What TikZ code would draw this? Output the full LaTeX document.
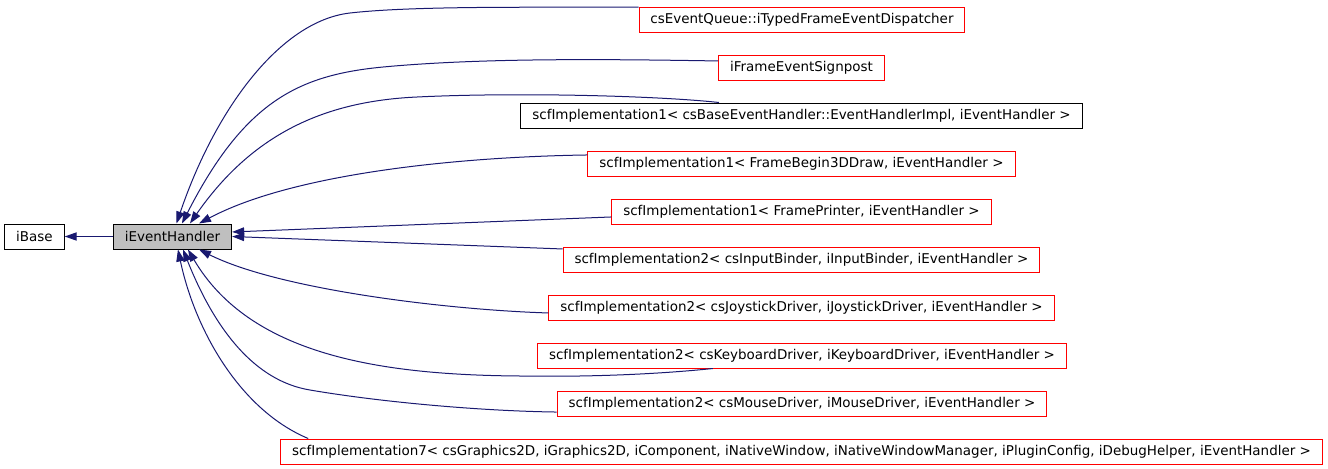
\documentclass[tikz,border=0pt]{standalone}
\usepackage{fontspec}
\setmainfont{DejaVu Sans}
\usetikzlibrary{arrows.meta}

\begin{document}
\begin{tikzpicture}[x=0.75pt, y=-0.75pt, >={Triangle[length=9pt, width=6.2pt]},
  cls/.style={draw=red, fill=white, line width=0.75pt, font=\fontsize{10.1}{12}\selectfont, inner xsep=8.6pt, inner ysep=0pt, minimum height=18.75pt},
  doccls/.style={cls, draw=black},
  inherit/.style={->, draw=edgecolor, line width=0.75pt}]

\definecolor{edgecolor}{RGB}{25, 25, 112}
\definecolor{focuscolor}{RGB}{191, 191, 191}

\useasboundingbox (0, 0) rectangle (1328, 468);

\node[doccls] (ibase) at (34.5, 236.5) {iBase};
\node[doccls, fill=focuscolor] (handler) at (172.5, 236.5) {iEventHandler};

\node[cls] (dispatcher) at (802, 20) {csEventQueue::iTypedFrameEventDispatcher};
\node[cls] (signpost) at (801.5, 67.5) {iFrameEventSignpost};
\node[doccls] (basehandler) at (801.5, 115.5) {scfImplementation1< csBaseEventHandler::EventHandlerImpl, iEventHandler >};
\node[cls] (begindraw) at (801.5, 163.5) {scfImplementation1< FrameBegin3DDraw, iEventHandler >};
\node[cls] (printer) at (801.5, 211.5) {scfImplementation1< FramePrinter, iEventHandler >};
\node[cls] (inputbinder) at (801.5, 259.5) {scfImplementation2< csInputBinder, iInputBinder, iEventHandler >};
\node[cls] (joystick) at (801.5, 307.5) {scfImplementation2< csJoystickDriver, iJoystickDriver, iEventHandler >};
\node[cls] (keyboard) at (802, 355.5) {scfImplementation2< csKeyboardDriver, iKeyboardDriver, iEventHandler >};
\node[cls] (mouse) at (802, 403.5) {scfImplementation2< csMouseDriver, iMouseDriver, iEventHandler >};
\node[cls] (graphics) at (801.5, 451.5) {scfImplementation7< csGraphics2D, iGraphics2D, iComponent, iNativeWindow, iNativeWindowManager, iPluginConfig, iDebugHelper, iEventHandler >};

\draw[inherit] (handler.west) -- (ibase.east);

\draw[inherit] (dispatcher.north west) .. controls (560, 8) and (420, 5) .. (350, 13) .. controls (280, 21) and (215, 110) .. ([xshift=3pt]handler.north);
\draw[inherit] ([yshift=4.9pt]signpost.west) .. controls (600, 59) and (480, 58) .. (383, 67) .. controls (300, 75) and (245, 100) .. ([xshift=7.1pt]handler.north);
\draw[inherit] ([xshift=-61.9pt]basehandler.north) .. controls (660, 96) and (520, 92) .. (417, 97) .. controls (330, 101) and (255, 130) .. ([xshift=13.1pt]handler.north);
\draw[inherit] ([yshift=6.4pt]begindraw.west) .. controls (450, 157) and (290, 175) .. ([xshift=19.9pt]handler.north);
\draw[inherit] ([yshift=-4.1pt]printer.west) -- ([yshift=3.4pt]handler.east);
\draw[inherit] ([yshift=7.9pt]inputbinder.west) -- (handler.east);
\draw[inherit] ([yshift=-4.1pt]joystick.west) .. controls (450, 310) and (280, 290) .. ([xshift=19.9pt]handler.south);
\draw[inherit] ([xshift=-66.8pt]keyboard.south) .. controls (650, 375) and (580, 377) .. (520, 376) .. controls (380, 375) and (250, 355) .. ([xshift=11.6pt]handler.south);
\draw[inherit] ([yshift=-6.4pt]mouse.west) .. controls (480, 411) and (380, 402) .. (310, 390) .. controls (255, 381) and (215, 330) .. ([xshift=7.9pt]handler.south);
\draw[inherit] ([xshift=21pt]graphics.north west) .. controls (240, 410) and (195, 330) .. ([xshift=4.1pt]handler.south);

\end{tikzpicture}
\end{document}
